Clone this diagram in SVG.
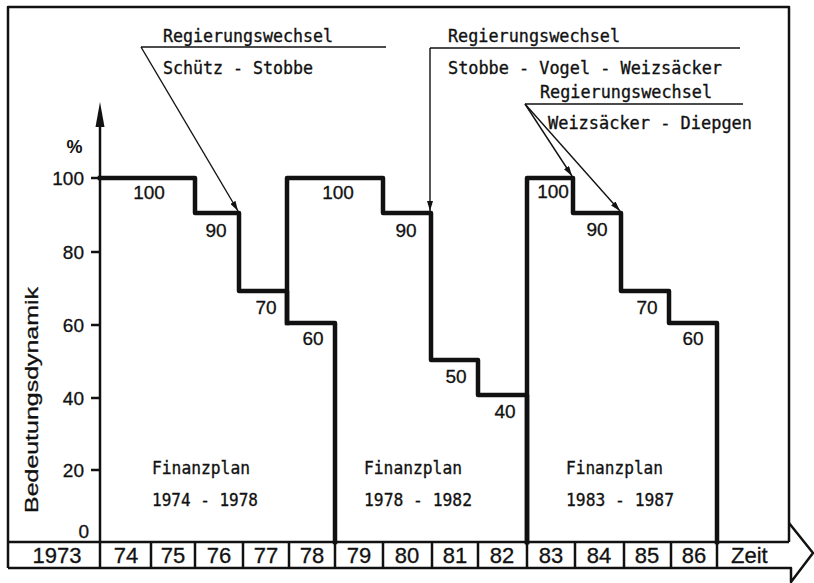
<svg xmlns="http://www.w3.org/2000/svg" width="814" height="583" viewBox="0 0 814 583">
<style>
.frame{fill:none;stroke:#111;stroke-width:2.5;stroke-linejoin:round}
.step{fill:none;stroke:#111;stroke-width:4.5;stroke-linejoin:round;stroke-linecap:square}
.thin{fill:none;stroke:#111;stroke-width:1.4}
.num{font-family:"Liberation Sans",Arial,sans-serif;font-size:19px;fill:#111;text-anchor:middle;stroke:#111;stroke-width:0.3}
.tick{font-family:"Liberation Sans",Arial,sans-serif;font-size:19px;fill:#111;text-anchor:end;stroke:#111;stroke-width:0.3}
.year{font-family:"Liberation Sans",Arial,sans-serif;font-size:22px;fill:#111;text-anchor:middle;stroke:#111;stroke-width:0.3}
.mono{font-family:"DejaVu Sans Mono","Liberation Mono",monospace;font-size:18px;fill:#111;stroke:#111;stroke-width:0.35}
</style>
<defs>
<marker id="ah" viewBox="0 0 10 6" refX="10" refY="3" markerWidth="10" markerHeight="6" markerUnits="userSpaceOnUse" orient="auto">
<path d="M0,0 L10,3 L0,6 Z" fill="#111"/>
</marker>
</defs>
<rect width="814" height="583" fill="#fff"/>

<g id="frame">
<path class="frame" d="M8,568 V7 H789 V542"/>
<path class="frame" d="M8,542 H789"/>
<path class="frame" d="M8,568 H791 V582 L813,553 L789,523"/>
</g>

<g id="timeline">
<path class="frame" d="M151,542V568 M195,542V568 M243,542V568 M289,542V568 M383,542V568 M432,542V568 M478,542V568 M575,542V568 M624,542V568 M671,542V568 M100,542V568 M335,542V568 M527,542V568 M717,542V568"/>
<text class="year" x="57" y="563">1973</text>
<text class="year" x="126" y="563">74</text>
<text class="year" x="173" y="563">75</text>
<text class="year" x="219" y="563">76</text>
<text class="year" x="266" y="563">77</text>
<text class="year" x="312" y="563">78</text>
<text class="year" x="359" y="563">79</text>
<text class="year" x="407" y="563">80</text>
<text class="year" x="455" y="563">81</text>
<text class="year" x="502" y="563">82</text>
<text class="year" x="551" y="563">83</text>
<text class="year" x="599" y="563">84</text>
<text class="year" x="647" y="563">85</text>
<text class="year" x="694" y="563">86</text>
<text class="year" x="731" y="563" style="text-anchor:start">Zeit</text>
</g>

<g id="y-axis">
<line class="frame" x1="100" y1="124" x2="100" y2="542"/>
<polygon points="100,102 95.5,127 104.5,127" fill="#111"/>
<path class="frame" d="M91,178H100 M91,252H100 M91,325H100 M91,398H100 M91,470H100"/>
<text class="tick" x="84" y="185">100</text>
<text class="tick" x="84" y="259">80</text>
<text class="tick" x="84" y="332">60</text>
<text class="tick" x="84" y="405">40</text>
<text class="tick" x="84" y="477">20</text>
<text class="tick" x="89" y="538">0</text>
<text x="74.5" y="153" font-family="Liberation Sans,Arial,sans-serif" font-size="18" font-weight="bold" fill="#111" text-anchor="middle">%</text>
<text transform="translate(38,400) rotate(-90)" font-family="Liberation Sans,Arial,sans-serif" font-size="19" fill="#111" stroke="#111" stroke-width="0.3" text-anchor="middle" textLength="226" lengthAdjust="spacingAndGlyphs">Bedeutungsdynamik</text>
</g>

<g id="plan-1974-1978">
<path class="step" d="M100,178 H195 V213 H239 V291 H287 V323 H335 V542"/>
<text class="num" x="149" y="199">100</text>
<text class="num" x="216" y="237">90</text>
<text class="num" x="266" y="314">70</text>
<text class="num" x="313" y="345">60</text>
<text class="mono" x="152" y="474" textLength="98" lengthAdjust="spacingAndGlyphs">Finanzplan</text>
<text class="mono" x="152" y="506" textLength="106" lengthAdjust="spacingAndGlyphs">1974 - 1978</text>
</g>

<g id="plan-1978-1982">
<path class="step" d="M287,323 V178 H383 V213 H431 V360 H478 V395 H527 V542"/>
<text class="num" x="338" y="199">100</text>
<text class="num" x="406" y="237">90</text>
<text class="num" x="456" y="383">50</text>
<text class="num" x="505" y="418">40</text>
<text class="mono" x="364" y="474" textLength="98" lengthAdjust="spacingAndGlyphs">Finanzplan</text>
<text class="mono" x="364" y="506" textLength="108" lengthAdjust="spacingAndGlyphs">1978 - 1982</text>
</g>

<g id="plan-1983-1987">
<path class="step" d="M527,542 V178 H573 V213 H621 V291 H669 V323 H717 V542"/>
<text class="num" x="553" y="198">100</text>
<text class="num" x="597" y="236">90</text>
<text class="num" x="647" y="314">70</text>
<text class="num" x="693" y="345">60</text>
<text class="mono" x="566" y="474" textLength="97" lengthAdjust="spacingAndGlyphs">Finanzplan</text>
<text class="mono" x="566" y="506" textLength="108" lengthAdjust="spacingAndGlyphs">1983 - 1987</text>
</g>

<g id="note-schuetz-stobbe">
<text class="mono" x="163" y="42" textLength="170" lengthAdjust="spacingAndGlyphs">Regierungswechsel</text>
<text class="mono" x="163" y="74" textLength="150" lengthAdjust="spacingAndGlyphs">Schütz - Stobbe</text>
</g>
<g id="note-stobbe-vogel-weizsaecker">
<text class="mono" x="448" y="42" textLength="172" lengthAdjust="spacingAndGlyphs">Regierungswechsel</text>
<text class="mono" x="448" y="74" textLength="274" lengthAdjust="spacingAndGlyphs">Stobbe - Vogel - Weizsäcker</text>
</g>
<g id="note-weizsaecker-diepgen">
<text class="mono" x="540" y="98" textLength="172" lengthAdjust="spacingAndGlyphs">Regierungswechsel</text>
<text class="mono" x="548" y="129" textLength="204" lengthAdjust="spacingAndGlyphs">Weizsäcker - Diepgen</text>
</g>

<g id="connectors">
<path class="thin" d="M141,47 H386"/>
<path class="thin" d="M141,47 L238,211" marker-end="url(#ah)"/>
<path class="thin" d="M430,48 H740"/>
<path class="thin" d="M430,48 V211" marker-end="url(#ah)"/>
<path class="thin" d="M525,104 H743"/>
<path class="thin" d="M525,104 L572,176" marker-end="url(#ah)"/>
<path class="thin" d="M525,104 L620,211" marker-end="url(#ah)"/>
</g>
</svg>
